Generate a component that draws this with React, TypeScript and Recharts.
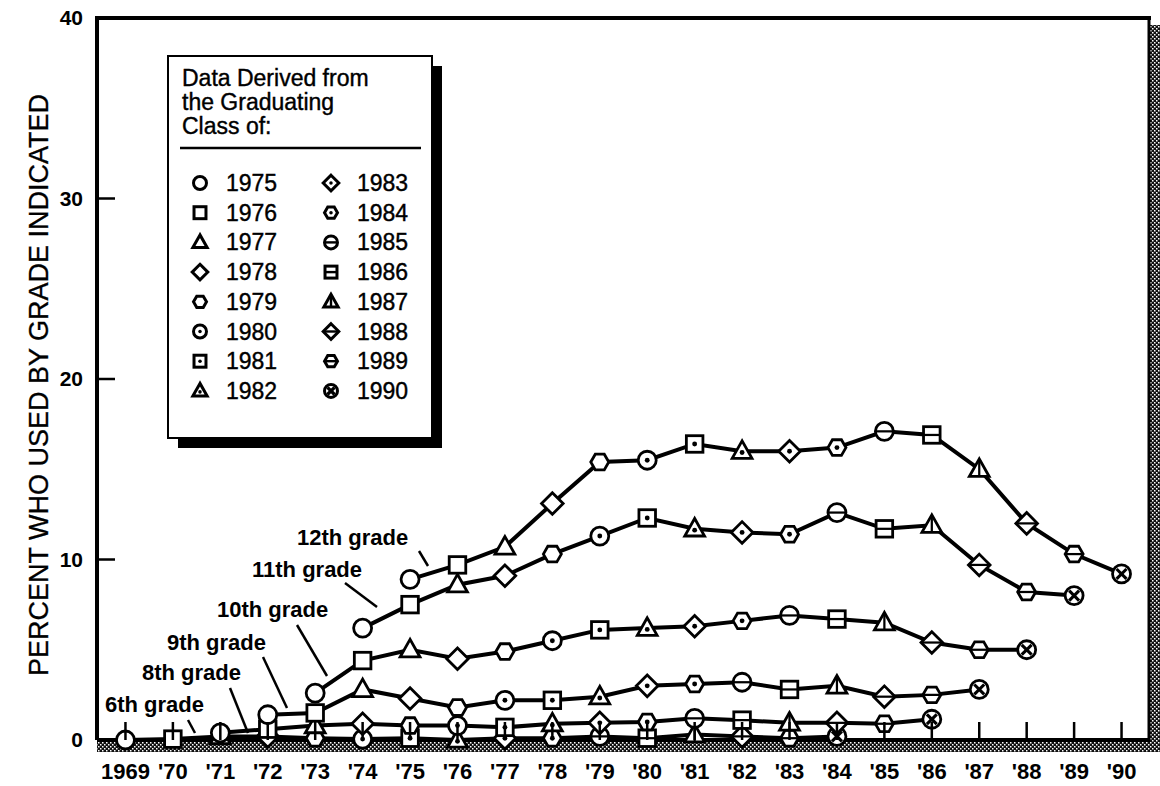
import React from "react";
import { LineChart, Line, XAxis, YAxis, Customized } from "recharts";

// survey years on the x axis and their printed labels
const years = [
  1969, 1970, 1971, 1972, 1973, 1974, 1975, 1976, 1977, 1978, 1979,
  1980, 1981, 1982, 1983, 1984, 1985, 1986, 1987, 1988, 1989, 1990,
];
const yearLabels = [
  "1969", "'70", "'71", "'72", "'73", "'74", "'75", "'76", "'77", "'78", "'79",
  "'80", "'81", "'82", "'83", "'84", "'85", "'86", "'87", "'88", "'89", "'90",
];
const yTicks = [0, 10, 20, 30, 40];

// graduating classes (one marker shape each)
const classes = [
  1975, 1976, 1977, 1978, 1979, 1980, 1981, 1982,
  1983, 1984, 1985, 1986, 1987, 1988, 1989, 1990,
];

// percent by grade, one value per class starting with class of 1975
const grade6 = [0.0, 0.05, 0.2, 0.2, 0.1, 0.05, 0.1, 0.0, 0.1, 0.1, 0.2, 0.1, 0.3, 0.2, 0.1, 0.2];
const grade8 = [0.4, 0.6, 0.8, 0.9, 0.8, 0.8, 0.7, 0.9, 0.95, 1.0, 1.2, 1.1, 0.95, 0.95, 0.9, 1.15];
const grade9 = [1.4, 1.5, 2.8, 2.3, 1.8, 2.2, 2.2, 2.4, 3.0, 3.1, 3.2, 2.8, 3.0, 2.4, 2.5, 2.8];
const grade10 = [2.6, 4.4, 5.0, 4.5, 4.9, 5.5, 6.1, 6.2, 6.3, 6.6, 6.9, 6.7, 6.5, 5.4, 5.0, 5.0];
const grade11 = [6.2, 7.5, 8.6, 9.1, 10.3, 11.3, 12.3, 11.7, 11.5, 11.4, 12.6, 11.7, 11.9, 9.7, 8.2, 8.0];
const grade12 = [8.9, 9.7, 10.7, 13.1, 15.4, 15.5, 16.4, 16.0, 16.0, 16.2, 17.1, 16.9, 15.0, 12.0, 10.3, 9.2];

const grades = [
  { key: "g6", grade: 6, values: grade6 },
  { key: "g8", grade: 8, values: grade8 },
  { key: "g9", grade: 9, values: grade9 },
  { key: "g10", grade: 10, values: grade10 },
  { key: "g11", grade: 11, values: grade11 },
  { key: "g12", grade: 12, values: grade12 },
];

const data = years.map((year) => {
  const row: any = { year };
  grades.forEach((g) => {
    const idx = year - classes[0] + (12 - g.grade);
    if (idx >= 0 && idx < g.values.length) row[g.key] = g.values[idx];
  });
  return row;
});

const FONT = "'Liberation Sans', Arial, Helvetica, sans-serif";

// marker for a graduating class
const ClassMarker = ({ cx, cy, cls, r = 9, sw = 2.8 }: any) => {
  const n = cls - 1975;
  const shape = n === 15 ? 0 : n % 5;
  const kind = n < 5 ? "plain" : n < 10 ? "dot" : n < 15 ? "bar" : "x";
  const common = { fill: "#fff", stroke: "#000", strokeWidth: sw };
  let outline;
  let ext = r;
  if (shape === 0) {
    outline = <circle cx={cx} cy={cy} r={r} {...common} />;
  } else if (shape === 1) {
    const s = r * 0.92;
    outline = <rect x={cx - s} y={cy - s} width={s * 2} height={s * 2} {...common} />;
    ext = s;
  } else if (shape === 2) {
    const pts = `${cx},${cy - r * 1.15} ${cx - r * 1.1},${cy + r * 0.8} ${cx + r * 1.1},${cy + r * 0.8}`;
    outline = <polygon points={pts} {...common} strokeLinejoin="miter" />;
    ext = r * 0.6;
  } else if (shape === 3) {
    const d = r * 1.2;
    const pts = `${cx},${cy - d} ${cx + d},${cy} ${cx},${cy + d} ${cx - d},${cy}`;
    outline = <polygon points={pts} {...common} />;
    ext = d;
  } else {
    const h = r * 0.87;
    const pts = `${cx - r},${cy} ${cx - r / 2},${cy - h} ${cx + r / 2},${cy - h} ${cx + r},${cy} ${cx + r / 2},${cy + h} ${cx - r / 2},${cy + h}`;
    outline = <polygon points={pts} {...common} />;
  }
  let inner = null;
  if (kind === "dot") {
    inner = <circle cx={cx} cy={shape === 2 ? cy + r * 0.15 : cy} r={r * 0.27} fill="#000" />;
  } else if (kind === "bar") {
    inner =
      shape === 2 ? (
        <line x1={cx} y1={cy - r * 1.1} x2={cx} y2={cy + r * 0.8} stroke="#000" strokeWidth={sw * 0.8} />
      ) : (
        <line x1={cx - ext} y1={cy} x2={cx + ext} y2={cy} stroke="#000" strokeWidth={sw * 0.8} />
      );
  } else if (kind === "x") {
    const q = r * 0.55;
    inner = (
      <g stroke="#000" strokeWidth={sw * 1.1}>
        <line x1={cx - q} y1={cy - q} x2={cx + q} y2={cy + q} />
        <line x1={cx - q} y1={cy + q} x2={cx + q} y2={cy - q} />
      </g>
    );
  }
  return (
    <g>
      {outline}
      {inner}
    </g>
  );
};

const makeDot = (grade: number) => (props: any) => {
  const { cx, cy, payload, index, value } = props;
  const k = `dot-${grade}-${index}`;
  if (value == null || cx == null || cy == null) return <g key={k} />;
  const cls = payload.year + (12 - grade);
  return (
    <g key={k}>
      <ClassMarker cx={cx} cy={cy} cls={cls} />
    </g>
  );
};

const XTick = (props: any) => {
  const { x, y, payload, index } = props;
  return (
    <g>
      <line x1={x} y1={y - 2} x2={x} y2={y - 20} stroke="#000" strokeWidth={2.5} />
      <text x={x} y={y + 37} textAnchor="middle" fontFamily={FONT} fontWeight="bold" fontSize={22} fill="#000">
        {yearLabels[index] ?? payload.value}
      </text>
    </g>
  );
};

const YTick = (props: any) => {
  const { x, y, payload } = props;
  const v = payload.value;
  return (
    <g>
      {v > 0 && v < 40 && <line x1={x + 2} y1={y} x2={x + 20} y2={y} stroke="#000" strokeWidth={2.5} />}
      <text x={x - 12} y={y} dy={7} textAnchor="end" fontFamily={FONT} fontWeight="bold" fontSize={21} fill="#000">
        {v}
      </text>
    </g>
  );
};

const gradeLabels = [
  { text: "12th grade", x: 297, y: 545, lx1: 419, ly1: 551, lx2: 428, ly2: 566 },
  { text: "11th grade", x: 252, y: 577, lx1: 345, ly1: 583, lx2: 377, ly2: 607 },
  { text: "10th grade", x: 217, y: 617, lx1: 297, ly1: 625, lx2: 327, ly2: 676 },
  { text: "9th grade", x: 167, y: 650, lx1: 263, ly1: 657, lx2: 287, ly2: 708 },
  { text: "8th grade", x: 142, y: 680, lx1: 230, ly1: 688, lx2: 248, ly2: 733 },
  { text: "6th grade", x: 105, y: 712, lx1: 188, ly1: 720, lx2: 195, ly2: 733 },
];

const Frame = () => (
  <g>
    <defs>
      <pattern id="halftone" width="4" height="4" patternUnits="userSpaceOnUse">
        <rect width="4" height="4" fill="#111" />
        <rect x="0" y="0" width="1.5" height="1.5" fill="#fff" />
        <rect x="2" y="2" width="1.5" height="1.5" fill="#fff" />
      </pattern>
    </defs>
    {/* shaded border on right and bottom */}
    <rect x={97} y={739} width={1063} height={13} fill="url(#halftone)" />
    <rect x={1150} y={25} width={10} height={727} fill="url(#halftone)" />
    <line x1={1149} y1={16} x2={1149} y2={740} stroke="#000" strokeWidth={3} />
    <line x1={95} y1={18} x2={1151} y2={18} stroke="#000" strokeWidth={4} />
    {/* y axis title */}
    <text
      x={39}
      y={385}
      transform="rotate(-90, 39, 385)"
      textAnchor="middle"
      dominantBaseline="central"
      fontFamily={FONT}
      fontSize={27}
      stroke="#000"
      strokeWidth={0.3}
      fill="#000"
    >
      PERCENT WHO USED BY GRADE INDICATED
    </text>
    {gradeLabels.map((g) => (
      <g key={g.text}>
        <text x={g.x} y={g.y} fontFamily={FONT} fontWeight="bold" fontSize={22} fill="#000">
          {g.text}
        </text>
        <line x1={g.lx1} y1={g.ly1} x2={g.lx2} y2={g.ly2} stroke="#000" strokeWidth={2.5} />
      </g>
    ))}
  </g>
);

const LegendBox = () => {
  const left = 168;
  const top = 56;
  const w = 264;
  const h = 382;
  const rowTop = 183;
  const step = 29.7;
  return (
    <g fontFamily={FONT} fill="#000">
      <rect x={left + 10} y={top + 10} width={w} height={h} fill="#000" />
      <rect x={left} y={top} width={w} height={h} fill="#fff" stroke="#000" strokeWidth={2} />
      <g stroke="#000" strokeWidth={0.4}>
        <text x={182} y={86} fontSize={23}>Data Derived from</text>
        <text x={182} y={110} fontSize={23}>the Graduating</text>
        <text x={182} y={134} fontSize={23}>Class of:</text>
      </g>
      <line x1={180} y1={148} x2={421} y2={148} stroke="#000" strokeWidth={2.5} />
      {classes.map((c, i) => {
        const col = i < 8 ? 0 : 1;
        const row = i % 8;
        const cy = rowTop + row * step;
        const mx = col === 0 ? 200 : 331;
        return (
          <g key={c}>
            <ClassMarker cx={mx} cy={cy} cls={c} r={6.5} sw={3} />
            <text x={mx + 26} y={cy + 8} fontSize={23} stroke="#000" strokeWidth={0.4}>
              {c}
            </text>
          </g>
        );
      })}
    </g>
  );
};

export default function App() {
  return (
    <div style={{ position: "absolute", left: 0, top: 0, background: "#fff" }}>
      <LineChart
        width={1160}
        height={786}
        data={data}
        margin={{ top: 18, right: 10, bottom: 0, left: 0 }}
      >
        <Customized component={<Frame />} />
        <XAxis
          dataKey="year"
          type="number"
          domain={[1968.4, 1990.6]}
          ticks={years}
          interval={0}
          height={46}
          tickSize={0}
          tickMargin={2}
          tickLine={false}
          axisLine={{ stroke: "#000", strokeWidth: 4 }}
          tick={<XTick />}
        />
        <YAxis
          type="number"
          domain={[0, 40]}
          ticks={yTicks}
          width={97}
          tickSize={0}
          tickMargin={2}
          tickLine={false}
          axisLine={{ stroke: "#000", strokeWidth: 4 }}
          tick={<YTick />}
        />
        {grades.map((g) => (
          <Line
            key={g.key}
            dataKey={g.key}
            type="linear"
            stroke="#000"
            strokeWidth={4}
            isAnimationActive={false}
            connectNulls={false}
            dot={makeDot(g.grade)}
            activeDot={false}
          />
        ))}
        <Customized component={<LegendBox />} />
      </LineChart>
    </div>
  );
}
